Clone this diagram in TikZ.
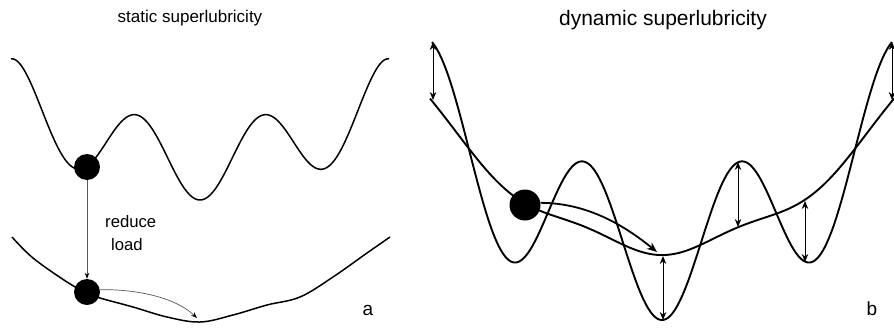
\documentclass[tikz,border=0pt]{standalone}
\usepackage{fontspec}
\setmainfont{Liberation Sans}
\usetikzlibrary{arrows.meta}
\begin{document}
\begin{tikzpicture}[x=1pt,y=-1pt,
  curveA/.style={line width=1.5pt,line join=round},
  curveB/.style={line width=1.9pt,line join=round},
  ball/.style={circle,fill=black,inner sep=0pt,minimum size=#1},
  thinarrow/.style={draw=black!65,line width=0.7pt,-{Stealth[length=6pt,width=4.5pt,color=black,fill=black]}},
  dblarrow/.style={line width=1pt,{Stealth[length=8pt,width=6.5pt]}-{Stealth[length=8pt,width=6.5pt]}},
  ballarrow/.style={line width=1.8pt,-{Stealth[length=10pt,width=8pt]}},
  lbl/.style={inner sep=0pt,anchor=base}]
\useasboundingbox (0,0) rectangle (894,327);
\fill[white] (0,0) rectangle (894,327);

% ---------- panel a ----------
\node[lbl,font=\fontsize{17}{20}\selectfont] (ta) at (190,22.5) {static superlubricity};
\draw[curveA] plot[domain=-189:189,samples=240,smooth]
  ({200+\x},{161.5+38.5*cos(\x/126*360)-20.16*(\x/100)^2+8*((\x/189)^2)^12});
\draw[curveA] plot[smooth,tension=0.6] coordinates {(12,237) (33,258) (67,282) (87,293) (100,298) (133,307) (167,317) (200,322) (233,315) (267,305) (300,297) (333,277) (367,253) (390,237)};
\node[ball=26pt] (b1) at (87,167) {};
\node[ball=26pt] (b2) at (87,292) {};
\draw[thinarrow] (b1.south) -- (b2.north);
\coordinate (a1) at (197,318);
\draw[thinarrow] (b2.10) .. controls (135,289) and (175,297) .. (a1);
\node[inner sep=0pt,anchor=base west,font=\fontsize{16.7}{20}\selectfont] (r1) at (105,227.7) {reduce};
\node[inner sep=0pt,anchor=base west,font=\fontsize{16.7}{20}\selectfont] (r2) at (111,250) {load};
\node[lbl,font=\fontsize{19}{22}\selectfont] (la) at (368,315) {a};

% ---------- panel b ----------
\node[lbl,font=\fontsize{21}{24}\selectfont] (tb) at (663,25) {dynamic superlubricity};
\draw[curveB] plot[domain=-230:230,samples=300,smooth]
  ({662+\x},{248.5+71.5*cos(\x/153.3*360)-25.5*(\x/100)^2});
\draw[curveB] plot[domain=-232:232,samples=240,smooth]
  ({662+\x},{248.9+6.15*cos(\x/153.3*360)-26.8*(\x/100)^2});
\node[ball=31pt] (b3) at (525,205) {};
\coordinate (e1) at (657,252);
\draw[ballarrow] (b3.8) .. controls (588,203) and (625,226) .. (e1);
% double arrows between the two curves
\coordinate (p1t) at (433,42);  \coordinate (p1b) at (433,100);
\coordinate (p2t) at (663,256); \coordinate (p2b) at (663,320);
\coordinate (p3t) at (738,162); \coordinate (p3b) at (738,227);
\coordinate (p4t) at (805,201); \coordinate (p4b) at (805,262);
\coordinate (p5t) at (892,42);  \coordinate (p5b) at (892,100);
\draw[dblarrow] (p1t) -- (p1b);
\draw[dblarrow] (p2t) -- (p2b);
\draw[dblarrow] (p3t) -- (p3b);
\draw[dblarrow] (p4t) -- (p4b);
\draw[dblarrow] (p5t) -- (p5b);
\node[lbl,font=\fontsize{19}{22}\selectfont] (lb) at (872,315) {b};
\end{tikzpicture}
\end{document}
